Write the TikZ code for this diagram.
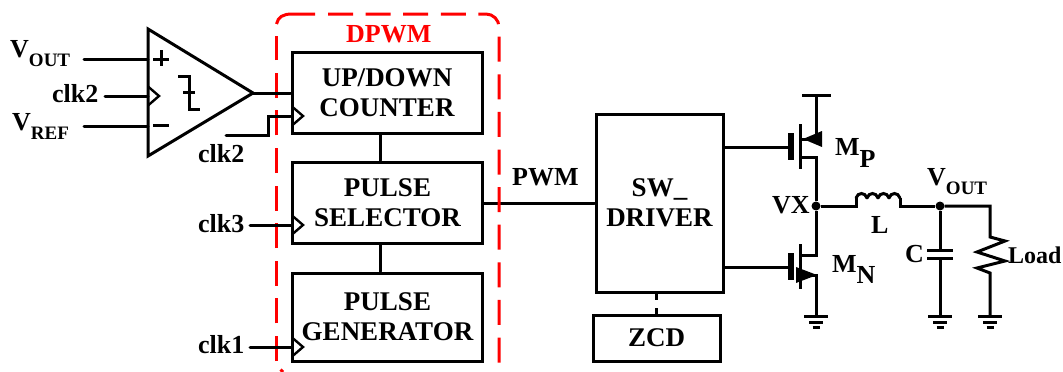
\documentclass[tikz,border=0pt]{standalone}
\usepackage{fontspec}
\setmainfont{Liberation Serif}
\usepackage{tikz}
\usetikzlibrary{arrows.meta, positioning, calc}

\tikzset{
  wire/.style={line width=3pt, line cap=round, line join=miter},
  frameline/.style={red, line width=3pt, line cap=butt},
  framedash/.style={frameline, dash pattern=on 25pt off 12.6pt},
  blockbox/.style={draw, line width=3pt, minimum width=190pt, align=center, font=\boxtext, inner sep=0pt},
  lbl/.style={font=\blocktext, inner sep=0pt, anchor=base west},
  dotnode/.style={circle, fill=black, inner sep=0pt, minimum size=9pt},
}
\newcommand{\boxtext}{\fontsize{27}{30}\selectfont\bfseries}
\newcommand{\blocktext}{\fontsize{26}{30}\selectfont\bfseries}
\newcommand{\subtext}[1]{\raisebox{-9pt}{\fontsize{19}{19}\selectfont #1}}
\newcommand{\gndsym}[1]{
  \draw[wire, line cap=butt] ($(#1)+(-12,0)$) -- ($(#1)+(12,0)$);
  \draw[wire, line cap=butt] ($(#1)+(-7,6)$) -- ($(#1)+(7,6)$);
  \draw[wire, line cap=butt] ($(#1)+(-3.5,11)$) -- ($(#1)+(3.5,11)$);
}
\newcommand{\clocktip}[1]{
  \draw[line width=2.4pt] ($(#1)+(0,-9.5)$) -- ($(#1)+(11,0)$) -- ($(#1)+(0,9.5)$);
}

\begin{document}
\begin{tikzpicture}[x=1pt, y=-1pt]
  \useasboundingbox (0,0) rectangle (1063,372);
  \clip (0,0) rectangle (1063,372);

  % dpwm blocks
  \node[blockbox, minimum height=81pt] (counter) at (387,92.5) {UP/DOWN\\COUNTER};
  \node[blockbox, minimum height=81pt] (selector) at (387.5,202.5) {PULSE\\SELECTOR};
  \node[blockbox, minimum height=88pt] (generator) at (387.5,317) {PULSE\\GENERATOR};
  \node[blockbox, minimum width=127pt, minimum height=178pt] (driver) at (659.5,203) {SW\_\\DRIVER};
  \node[blockbox, minimum width=127pt, minimum height=46pt] (zcd) at (656.5,338) {ZCD};

  \draw[wire] (counter.south -| 380,0) -- (selector.north -| 380,0);
  \draw[wire] (selector.south -| 380,0) -- (generator.north -| 380,0);
  \draw[wire, line cap=butt] (driver.south -| zcd.north) -- ++(0,6);
  \draw[wire, line cap=butt] (zcd.north) -- ++(0,-6);
  \draw[wire] (selector.east |- 0,203) -- (driver.west |- 0,203);
  \node[lbl] (pwm) at (512,185) {PWM};

  % frame
  \draw[framedash] (276,361) -- (276,36);
  \draw[frameline] (276.5,24) .. controls (278,17) and (283,14) .. (292,14) -- (315,14);
  \draw[framedash, rounded corners=13pt] (328,14) -- (499,14) -- (499,372);
  \draw[frameline] (280.5,369.5) -- (283,372);
  \node[lbl, red] (dpwmlbl) at (346,42) {DPWM};

  % comparator
  \coordinate (cmptop) at (148,29);
  \coordinate (cmpbot) at (148,156);
  \coordinate (cmpout) at (253,93);
  \draw[wire, line cap=butt] (cmptop) -- (cmpout) -- (cmpbot) -- cycle;
  \draw[wire, line cap=butt] (153,59) -- (169,59) (161,50) -- (161,66);
  \draw[wire, line cap=butt] (153,125) -- (169,125);
  \draw[wire, line cap=butt] (178,76) -- (189,76) -- (189,109) -- (200,109) (183,92) -- (195,92);
  \clocktip{148,96}

  \node[lbl] (vout) at (10,57) {V\subtext{OUT}};
  \node[lbl] (clktwo) at (52,102) {clk2};
  \node[lbl] (vref) at (12,130) {V\subtext{REF}};
  \draw[wire] (84,59) -- (cmptop |- 0,59);
  \draw[wire] (105,96) -- (cmptop |- 0,96);
  \draw[wire] (84,126) -- (cmptop |- 0,126);
  \draw[wire] (cmpout) -- (counter.west |- cmpout);

  % clocks
  \node[lbl] (clktwob) at (198,162) {clk2};
  \node[lbl] (clkthree) at (198,232) {clk3};
  \node[lbl] (clkone) at (198,353) {clk1};
  \draw[wire] (226,135) -- (268,135) -- (268,116) -- (counter.west |- 0,116);
  \draw[wire] (250,225) -- (selector.west |- 0,225);
  \draw[wire] (250,347) -- (generator.west |- 0,347);
  \clocktip{292,116}
  \clocktip{292,225}
  \clocktip{292,347}

  % power stage
  \node[dotnode] (vx) at (816,206) {};
  \node[dotnode] (vnode) at (940,206) {};
  \coordinate (rail) at (816,95);
  \draw[wire, line cap=butt] (802,95) -- (831,95);
  \draw[wire, line cap=butt] (rail) -- (816,139) -- (802,139);
  \draw[wire, line cap=butt] (driver.east |- 0,147) -- (790,147);
  \draw[wire, line width=5.5pt, line cap=butt] (791,133) -- (791,160);
  \draw[wire, line cap=butt] (800,124) -- (800,169);
  \draw[wire, line cap=butt] (800,157) -- (816,157) -- (vx);
  \fill (803,139) -- (822,131) -- (822,147) -- cycle;

  \draw[wire, line cap=butt] (vx) -- (816,255) -- (800,255);
  \draw[wire, line cap=butt] (driver.east |- 0,267) -- (790,267);
  \draw[wire, line width=5.5pt, line cap=butt] (791,253) -- (791,280);
  \draw[wire, line cap=butt] (800,244) -- (800,289);
  \draw[wire, line cap=butt] (800,275) -- (816,275) -- (816,316);
  \fill (817,275) -- (796,267) -- (796,283) -- cycle;
  \coordinate (gndn) at (816,316);
  \gndsym{gndn}

  % inductor
  \draw[wire, line cap=butt] (vx) -- (856,206) -- (856,198);
  \foreach \x in {856,867,878,889}{
    \draw[wire] (\x,198) .. controls (\x+2,192) and (\x+9,192) .. (\x+11,198);
  }
  \draw[wire, line cap=butt] (900,198) -- (900,206) -- (vnode);
  \draw[wire, line cap=butt] (vnode) -- (990,206) -- (990,237) -- (1005,241) -- (977,252)
    -- (1005,261) -- (977,268) -- (990,273) -- (990,316);

  % cap
  \draw[wire, line cap=butt] (vnode) -- (940,250);
  \draw[wire, line cap=butt] (927,250) -- (953,250);
  \draw[wire, line cap=butt] (927,258) -- (953,258);
  \draw[wire, line cap=butt] (940,258) -- (940,316);
  \coordinate (gndc) at (940,316);
  \coordinate (gndr) at (990,316);
  \gndsym{gndc}
  \gndsym{gndr}

  \node[lbl] (mp) at (835,155) {M\raisebox{-12pt}{P}};
  \node[lbl] (mn) at (832,272) {M\raisebox{-11pt}{N}};
  \node[lbl] (vxlbl) at (772,213) {VX};
  \node[lbl] (llbl) at (871,233) {L};
  \node[lbl] (clbl) at (905,262) {C};
  \node[lbl, font=\fontsize{24}{28}\selectfont\bfseries] (loadlbl) at (1008,263) {Load};
  \node[lbl] (voutb) at (927,185) {V\subtext{OUT}};
\end{tikzpicture}
\end{document}
